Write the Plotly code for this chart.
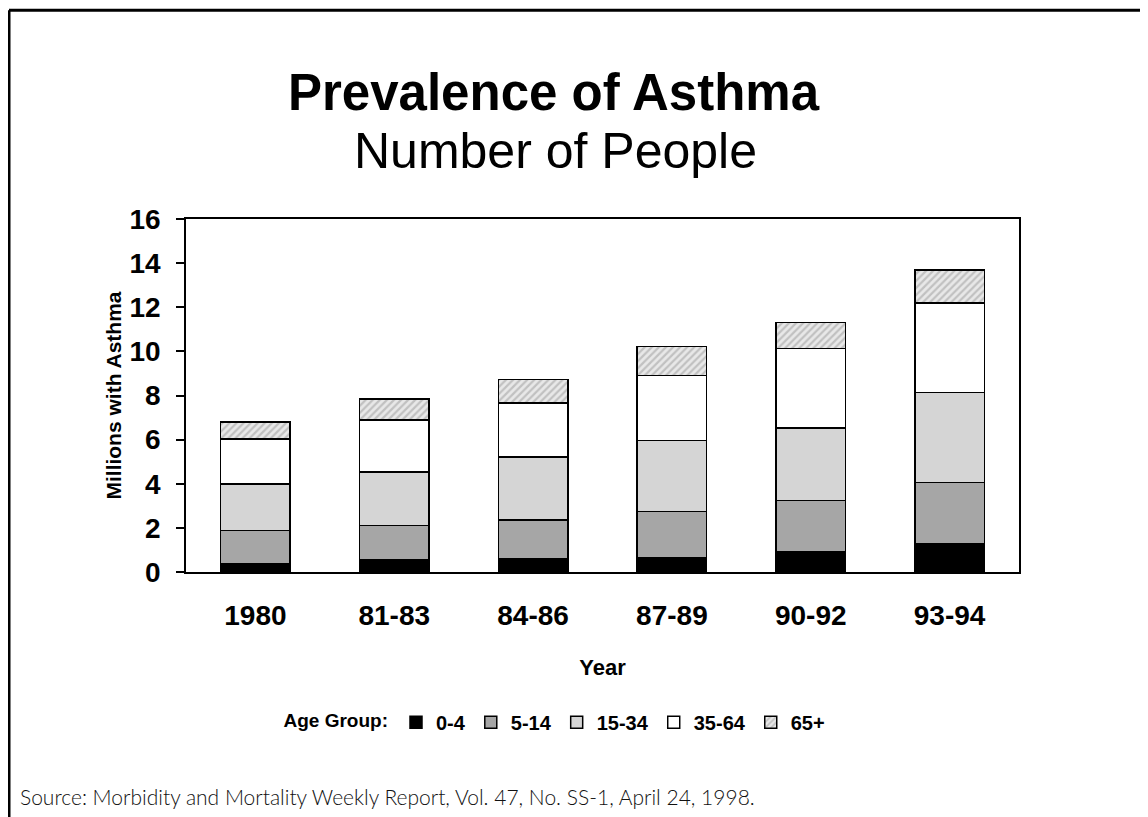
import plotly.graph_objects as go

periods = ["1980", "81-83", "84-86", "87-89", "90-92", "93-94"]
age_groups = ["0-4", "5-14", "15-34", "35-64", "65+"]
vals_0_4 = [0.36, 0.56, 0.60, 0.66, 0.91, 1.30]
vals_5_14 = [1.51, 1.55, 1.76, 2.09, 2.32, 2.76]
vals_15_34 = [2.13, 2.43, 2.85, 3.21, 3.29, 4.07]
vals_35_64 = [2.02, 2.36, 2.44, 2.94, 3.61, 4.07]
vals_65p = [0.77, 0.95, 1.07, 1.32, 1.19, 1.48]
y_ticks = [0, 2, 4, 6, 8, 10, 12, 14, 16]

series = [vals_0_4, vals_5_14, vals_15_34, vals_35_64, vals_65p]
fills = ["#000000", "#a6a6a6", "#d5d5d5", "#ffffff", "#e4e4e4"]

SANS = "Liberation Sans, Arial, sans-serif"

fig = go.Figure()
for name, vals, col in zip(age_groups, series, fills):
    marker = dict(color=col, line=dict(color="#000000", width=1.5))
    if name == "65+":
        marker["pattern"] = dict(shape="/", fgcolor="#9a9a9a", bgcolor="#e8e8e8",
                                 size=5, solidity=0.45)
    fig.add_trace(go.Bar(name=name, x=periods, y=vals, marker=marker, width=0.5))

# page offset (browser body margin)
OFF = 8
PW, PH = 1148, 817
W, H = PW - OFF, PH - OFF
L, R, T, B = 186, 1019, 219, 572.5   # plot area in page coordinates

def px(x):
    return (x - L) / (R - L)

def py(y):
    return (B - y) / (B - T)

fig.update_layout(
    width=W, height=H,
    barmode="stack",
    paper_bgcolor="white", plot_bgcolor="white",
    margin=dict(l=L - OFF, r=PW - R, t=T - OFF, b=PH - B, autoexpand=False),
    showlegend=True,
    legend=dict(
        orientation="h", x=px(556), xanchor="center", y=py(723), yanchor="middle",
        font=dict(family=SANS, size=20, color="black", weight="bold"),
        title=dict(text="Age Group:", side="left",
                   font=dict(family=SANS, size=19, color="black", weight="bold")),
        traceorder="normal", itemwidth=30,
    ),
    xaxis=dict(
        showline=True, linecolor="black", linewidth=1.5, mirror=True,
        ticks="", showgrid=False,
        tickfont=dict(family=SANS, size=28, color="black", weight="bold"),
        ticklabelstandoff=18,
        title=dict(text="Year", font=dict(family=SANS, size=22, color="black", weight="bold"),
                   standoff=29),
    ),
    yaxis=dict(
        range=[0, 16], tickvals=y_ticks,
        showline=True, linecolor="black", linewidth=1.5, mirror=True,
        ticks="outside", ticklen=8, tickwidth=1.5, tickcolor="black",
        showgrid=False, zeroline=False,
        tickfont=dict(family=SANS, size=28, color="black", weight="bold"),
        ticklabelstandoff=10,
        title=dict(text="Millions with Asthma",
                   font=dict(family=SANS, size=21, color="black", weight="bold"), standoff=2),
    ),
    annotations=[
        dict(text="<b>Prevalence of Asthma</b>", x=px(554), y=py(92), xref="paper", yref="paper",
             xanchor="center", yanchor="middle", showarrow=False,
             font=dict(family=SANS, size=51, color="black")),
        dict(text="Number of People", x=px(555), y=py(151), xref="paper", yref="paper",
             xanchor="center", yanchor="middle", showarrow=False,
             font=dict(family=SANS, size=50, color="black")),
        dict(text="Source: Morbidity and Mortality Weekly Report, Vol. 47, No. SS-1, April 24, 1998.",
             x=px(18), y=py(797), xref="paper", yref="paper",
             xanchor="left", yanchor="middle", showarrow=False,
             font=dict(family="Lato, Open Sans, sans-serif", size=21, color="#111111", weight=300)),
    ],
    shapes=[
        dict(type="line", xref="paper", yref="paper", x0=px(9), x1=px(1170), y0=py(10), y1=py(10),
             line=dict(color="black", width=3)),
        dict(type="line", xref="paper", yref="paper", x0=px(9), x1=px(9), y0=py(10), y1=py(840),
             line=dict(color="black", width=3)),
    ],
)

fig.write_html("out.html")
